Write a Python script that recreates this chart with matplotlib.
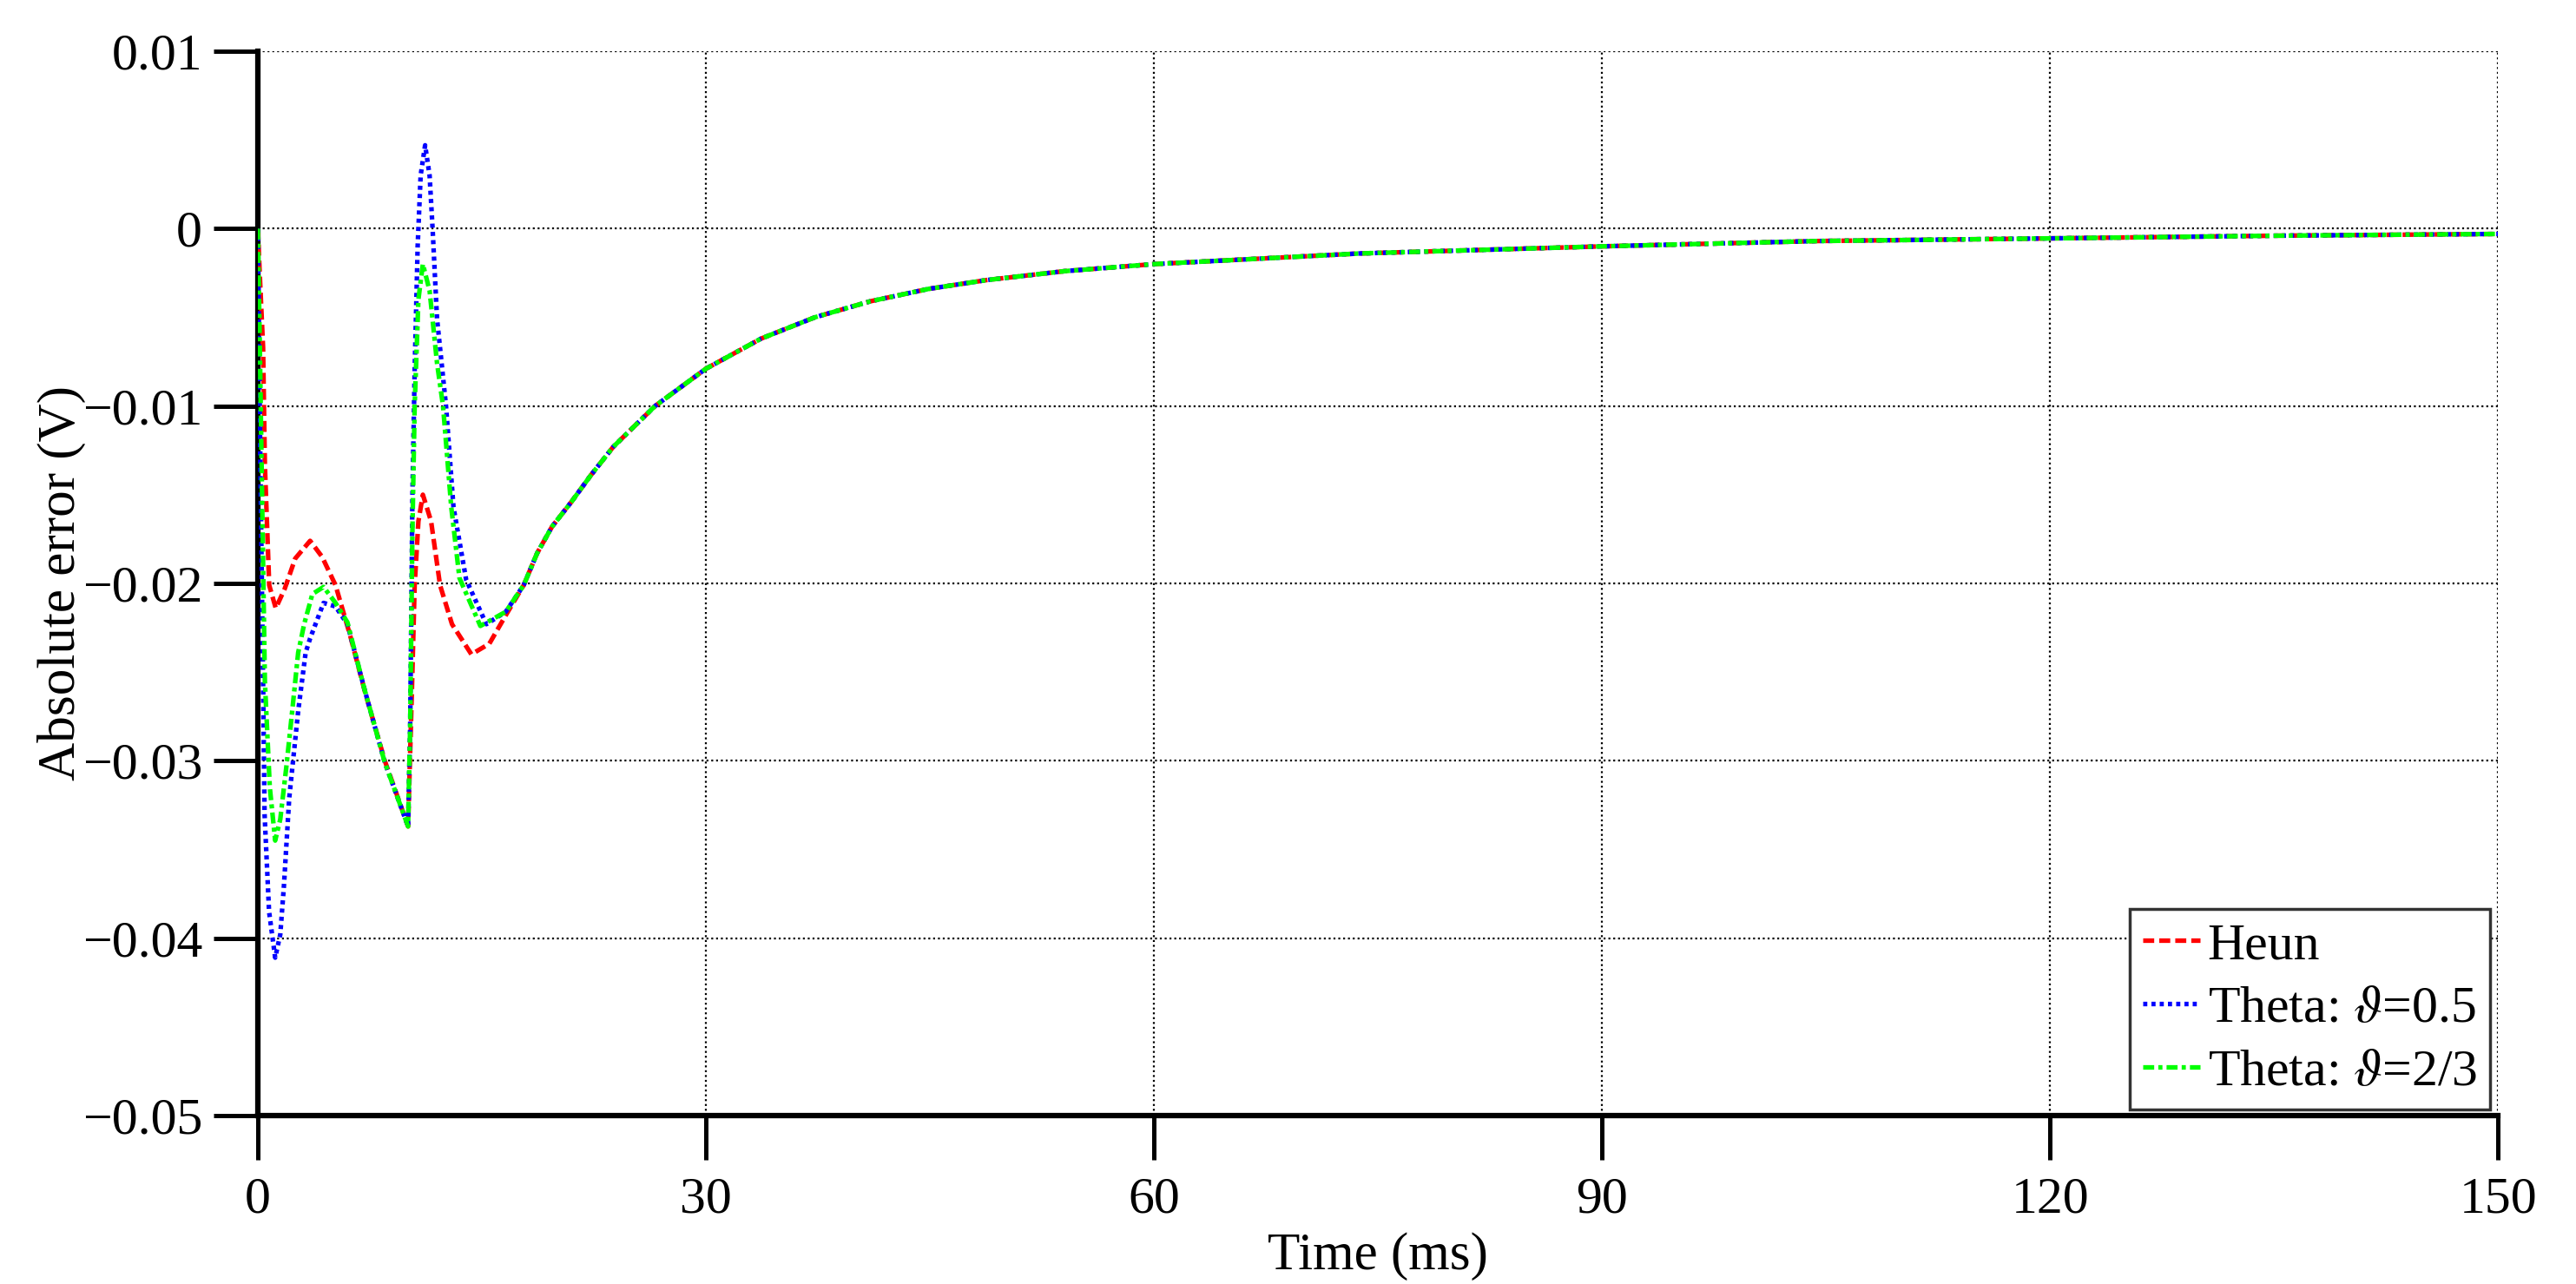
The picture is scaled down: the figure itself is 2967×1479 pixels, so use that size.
import matplotlib
matplotlib.use("Agg")
import matplotlib.pyplot as plt
import numpy as np

plt.rcParams['font.family'] = ['Liberation Serif', 'DejaVu Serif']
plt.rcParams['mathtext.fontset'] = 'stix'

# ---- data ----
tail_t = [18.7, 19.7, 21.0, 22.3, 23.8, 26.6, 30.0, 33.7, 37.3, 41.0, 44.9, 48.8,
          54.0, 60.0, 73.8, 90.0, 104.4, 120.0, 135.0, 150.0]
tail_v = [-0.0183, -0.0168, -0.0154, -0.0139, -0.0123, -0.0100, -0.0079, -0.0062,
          -0.0050, -0.0041, -0.0034, -0.0029, -0.0024, -0.0020, -0.0014, -0.0010,
          -0.0007, -0.00055, -0.0004, -0.0003]

heun_t = [0.0, 0.15, 0.35, 0.47, 0.76, 1.2, 1.8, 2.5, 3.5, 4.3, 5.2, 6.2, 7.2, 8.5,
          10.06, 10.3, 10.5, 10.75, 11.05, 11.6, 12.2, 13.0, 14.3, 15.5, 16.6, 17.8]
heun_v = [0.0, -0.003, -0.0067, -0.0133, -0.0201, -0.0214, -0.0203, -0.0186, -0.0176,
          -0.0185, -0.0201, -0.0230, -0.0262, -0.0300, -0.0337, -0.0265, -0.0201,
          -0.0165, -0.0150, -0.0165, -0.0201, -0.0223, -0.0240, -0.0234, -0.0218, -0.0201]

theta05_t = [0.0, 0.15, 0.35, 0.45, 0.75, 1.16, 1.5, 1.75, 2.1, 2.7, 3.2, 3.5, 4.4,
             5.2, 6.0, 7.15, 8.5, 10.06, 10.2, 10.35, 10.5, 10.7, 10.9, 11.2, 11.5,
             11.7, 12.0, 12.6, 13.1, 13.95, 15.3, 16.6, 17.8]
theta05_v = [0.0, -0.012, -0.0255, -0.033, -0.0385, -0.0411, -0.0398, -0.0370,
             -0.0321, -0.0272, -0.0239, -0.0231, -0.0211, -0.0213, -0.0223, -0.0260,
             -0.0301, -0.0337, -0.0280, -0.0150, -0.0080, -0.0010, 0.0030, 0.0047,
             0.0030, 0.0000, -0.0051, -0.0100, -0.0157, -0.0198, -0.0223, -0.0216, -0.0201]

theta23_t = [0.0, 0.12, 0.3, 0.47, 0.8, 1.16, 1.5, 1.9, 2.3, 2.7, 3.1, 3.65, 4.4,
             5.2, 6.0, 7.15, 8.5, 10.06, 10.2, 10.35, 10.5, 10.75, 11.05, 11.5, 12.0,
             12.4, 12.95, 13.5, 14.9, 16.6, 17.8]
theta23_v = [0.0, -0.006, -0.016, -0.0255, -0.0315, -0.0345, -0.0333, -0.0304,
             -0.0272, -0.0239, -0.0223, -0.0206, -0.0202, -0.0211, -0.0222, -0.0260,
             -0.0301, -0.0337, -0.0280, -0.0170, -0.0100, -0.0040, -0.0020, -0.0035,
             -0.0076, -0.0100, -0.0157, -0.0197, -0.0224, -0.0216, -0.0201]

series_labels = ['Heun', 'Theta: $\\vartheta$=0.5', 'Theta: $\\vartheta$=2/3']
series_colors = ['#ff0000', '#0000ff', '#00ff00']

x_ticks = [0, 30, 60, 90, 120, 150]
y_ticks = [0.01, 0, -0.01, -0.02, -0.03, -0.04, -0.05]
y_tick_labels = ['0.01', '0', '\u22120.01', '\u22120.02', '\u22120.03', '\u22120.04', '\u22120.05']

# ---- figure ----
fig = plt.figure(figsize=(29.67, 14.79), dpi=100)
ax = fig.add_axes([0.1001, 0.1312, 0.8696, 0.8289])

lw = 3.8
ax.plot(heun_t + tail_t, heun_v + tail_v, color=series_colors[0], lw=lw,
        linestyle=(0, (2.4, 1.1)), label=series_labels[0], zorder=3)
ax.plot(theta05_t + tail_t, theta05_v + tail_v, color=series_colors[1], lw=lw,
        linestyle=(0, (0.9, 0.9)), label=series_labels[1], zorder=4)
ax.plot(theta23_t + tail_t, theta23_v + tail_v, color=series_colors[2], lw=lw,
        linestyle=(0, (2.4, 0.9, 0.9, 0.9)), label=series_labels[2], zorder=5)

ax.set_xlim(0, 150)
ax.set_ylim(-0.05, 0.01)
ax.set_xticks(x_ticks)
ax.set_xticklabels([str(v) for v in x_ticks])
ax.set_yticks(y_ticks)
ax.set_yticklabels(y_tick_labels)

ax.grid(True, color='black', linestyle=(0, (1, 1.5)), linewidth=1.6, zorder=1)
ax.set_axisbelow(True)

for s in ['top', 'right']:
    ax.spines[s].set_visible(False)
for s in ['left', 'bottom']:
    ax.spines[s].set_linewidth(4.5)
    ax.spines[s].set_color('black')

ax.tick_params(axis='both', direction='out', length=37, width=3.6, labelsize=43,
               colors='black')
ax.tick_params(axis='y', pad=9)
ax.tick_params(axis='x', pad=14)

ax.set_xlabel('Time (ms)', fontsize=44, labelpad=7)
ax.set_ylabel('Absolute error (V)', fontsize=44, labelpad=-3)

leg = ax.legend(loc='lower right', bbox_to_anchor=(0.9965, 0.006), borderaxespad=0,
                fontsize=43, fancybox=False, framealpha=1, edgecolor='#333333',
                handlelength=1.1, handletextpad=0.15, borderpad=0.25, labelspacing=0.3)
leg.get_frame().set_linewidth(2.5)

fig.savefig('out.png', dpi=100, facecolor='white')
